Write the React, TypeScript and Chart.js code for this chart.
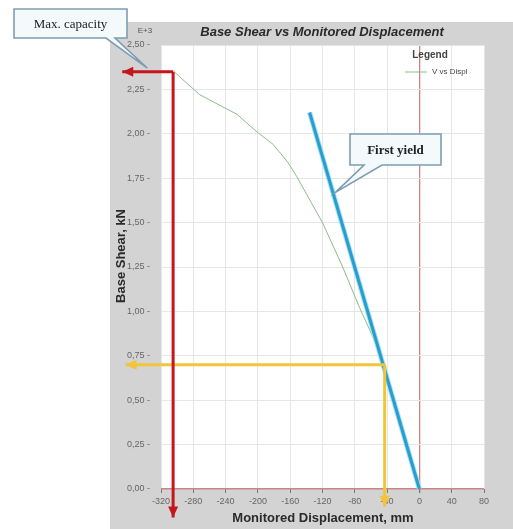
import { useEffect, useRef } from 'react';
import { Chart, registerables } from 'chart.js';

Chart.register(...registerables);

// ---- data ----
const DISPLACEMENT_MM = [0, -43, -49, -74, -95, -120, -152, -163, -181, -201, -226, -272, -304];
const BASE_SHEAR_E3 = [0, 0.70, 0.77, 1.02, 1.25, 1.50, 1.76, 1.84, 1.94, 2.01, 2.11, 2.22, 2.35];

const FIRST_YIELD_DISP = [0, -136];
const FIRST_YIELD_SHEAR = [0, 2.12];

const YIELD_POINT_DISP = -43;
const YIELD_POINT_SHEAR = 0.70;
const YIELD_ARROW_LEFT_DISP = -364;
const YIELD_ARROW_DOWN_SHEAR = -0.10;

const MAX_CAP_DISP = -305;
const MAX_CAP_SHEAR = 2.35;
const MAX_ARROW_LEFT_DISP = -368;
const MAX_ARROW_DOWN_SHEAR = -0.16;

const X_MIN = -320;
const X_MAX = 80;
const X_STEP = 40;
const Y_MIN = 0;
const Y_MAX = 2.5;
const Y_STEP = 0.25;

const TITLE = 'Base Shear vs Monitored Displacement';
const X_TITLE = 'Monitored Displacement, mm';
const Y_TITLE = 'Base Shear, kN';
const EXPONENT = 'E+3';
const SERIES_NAME = 'V vs Displ';
const LEGEND_TITLE = 'Legend';
const CALLOUT_MAX = 'Max. capacity';
const CALLOUT_YIELD = 'First yield';

const SANS = '"Liberation Sans", Arial, sans-serif';
const SERIF = '"Liberation Serif", "Times New Roman", serif';

const GREEN = '#8fbb8f';
const BLUE = '#2a9ccd';
const YELLOW = '#f2c43a';
const RED = '#c6161d';
const ZERO_LINE = '#c98585';

function drawCallout(
  ctx: CanvasRenderingContext2D,
  bx: number, by: number, bw: number, bh: number,
  t1: number, t2: number, tipX: number, tipY: number,
  text: string, bold: boolean
) {
  ctx.save();
  ctx.beginPath();
  ctx.moveTo(bx, by);
  ctx.lineTo(bx + bw, by);
  ctx.lineTo(bx + bw, by + bh);
  ctx.lineTo(bx + t2, by + bh);
  ctx.lineTo(tipX, tipY);
  ctx.lineTo(bx + t1, by + bh);
  ctx.lineTo(bx, by + bh);
  ctx.closePath();
  ctx.fillStyle = '#f4f9fb';
  ctx.fill();
  ctx.lineWidth = 1.6;
  ctx.strokeStyle = '#7d9db3';
  ctx.stroke();
  ctx.fillStyle = '#222';
  ctx.font = `${bold ? 'bold ' : ''}13px ${SERIF}`;
  ctx.textAlign = 'center';
  ctx.textBaseline = 'middle';
  ctx.fillText(text, bx + bw / 2, by + bh / 2 + 1);
  ctx.restore();
}

const decorPlugin = {
  id: 'decor',
  beforeDraw(chart: any) {
    const { ctx, chartArea } = chart;
    ctx.save();
    ctx.fillStyle = '#d3d3d3';
    ctx.fillRect(110, 22, chart.width - 110, chart.height - 22);
    ctx.fillStyle = '#ffffff';
    ctx.fillRect(chartArea.left, chartArea.top, chartArea.right - chartArea.left, chartArea.bottom - chartArea.top);
    ctx.restore();
  },
  afterDatasetsDraw(chart: any) {
    const { ctx } = chart;
    chart.data.datasets.forEach((ds: any, i: number) => {
      if (!ds.arrow) return;
      const meta = chart.getDatasetMeta(i);
      const pts = meta.data;
      const a = pts[pts.length - 2];
      const b = pts[pts.length - 1];
      const ang = Math.atan2(b.y - a.y, b.x - a.x);
      const len = 11;
      const half = 5;
      ctx.save();
      ctx.fillStyle = ds.borderColor;
      ctx.beginPath();
      ctx.moveTo(b.x, b.y);
      ctx.lineTo(b.x - len * Math.cos(ang) + half * Math.sin(ang), b.y - len * Math.sin(ang) - half * Math.cos(ang));
      ctx.lineTo(b.x - len * Math.cos(ang) - half * Math.sin(ang), b.y - len * Math.sin(ang) + half * Math.cos(ang));
      ctx.closePath();
      ctx.fill();
      ctx.restore();
    });
  },
  afterDraw(chart: any) {
    const { ctx, scales } = chart;
    const xs = scales.x;
    const ys = scales.y;
    ctx.save();
    // title
    ctx.fillStyle = '#2a2a2a';
    ctx.font = `italic bold 13px ${SANS}`;
    ctx.textAlign = 'center';
    ctx.textBaseline = 'middle';
    ctx.fillText(TITLE, 322, 32);
    // exponent
    ctx.fillStyle = '#555';
    ctx.font = `8px ${SANS}`;
    ctx.fillText(EXPONENT, 145, 31);
    // axis titles
    ctx.fillStyle = '#2a2a2a';
    ctx.font = `bold 13px ${SANS}`;
    ctx.fillText(X_TITLE, 323, 518);
    ctx.save();
    ctx.translate(121, 256);
    ctx.rotate(-Math.PI / 2);
    ctx.fillText(Y_TITLE, 0, 0);
    ctx.restore();
    // legend
    ctx.fillStyle = '#444';
    ctx.font = `bold 10px ${SANS}`;
    ctx.fillText(LEGEND_TITLE, 430, 55);
    ctx.strokeStyle = GREEN;
    ctx.lineWidth = 1;
    ctx.beginPath();
    ctx.moveTo(405, 72);
    ctx.lineTo(427, 72);
    ctx.stroke();
    ctx.fillStyle = '#444';
    ctx.font = `8px ${SANS}`;
    ctx.textAlign = 'left';
    ctx.fillText(SERIES_NAME, 432, 72);
    ctx.restore();

    // callouts, tails pointing at data locations
    const maxTipX = xs.getPixelForValue(MAX_CAP_DISP - 32);
    const maxTipY = ys.getPixelForValue(MAX_CAP_SHEAR + 0.02);
    drawCallout(ctx, 14, 9, 113, 29, 92, 101, maxTipX, maxTipY, CALLOUT_MAX, false);
    const yTipX = xs.getPixelForValue(-104);
    const yTipY = ys.getPixelForValue(1.67);
    drawCallout(ctx, 350, 134, 91, 31, 14, 32, yTipX, yTipY, CALLOUT_YIELD, true);
  },
};

export default function App() {
  const ref = useRef<HTMLCanvasElement | null>(null);

  useEffect(() => {
    if (!ref.current) return;
    const curve = DISPLACEMENT_MM.map((x, i) => ({ x, y: BASE_SHEAR_E3[i] }));
    const yieldLine = FIRST_YIELD_DISP.map((x, i) => ({ x, y: FIRST_YIELD_SHEAR[i] }));
    const lineDs = (data: any[], color: string, width: number, order: number, arrow = false) => ({
      data,
      borderColor: color,
      backgroundColor: color,
      borderWidth: width,
      showLine: true,
      pointRadius: 0,
      pointHoverRadius: 0,
      tension: 0,
      clip: false as any,
      order,
      arrow,
    });

    const chart = new Chart(ref.current, {
      type: 'scatter',
      data: {
        datasets: [
          { ...lineDs(curve, GREEN, 1, 5), label: SERIES_NAME },
          { ...lineDs(yieldLine, '#9fe3f2', 5, 4), label: 'halo' },
          { ...lineDs(yieldLine, BLUE, 3, 3), label: 'First yield' },
          {
            ...lineDs([{ x: YIELD_POINT_DISP, y: YIELD_POINT_SHEAR }, { x: YIELD_ARROW_LEFT_DISP, y: YIELD_POINT_SHEAR }], YELLOW, 3, 2, true),
            label: 'y1',
          },
          {
            ...lineDs([{ x: YIELD_POINT_DISP, y: YIELD_POINT_SHEAR }, { x: YIELD_POINT_DISP, y: YIELD_ARROW_DOWN_SHEAR }], YELLOW, 3, 2, true),
            label: 'y2',
          },
          {
            ...lineDs([{ x: MAX_CAP_DISP, y: MAX_CAP_SHEAR }, { x: MAX_ARROW_LEFT_DISP, y: MAX_CAP_SHEAR }], RED, 3, 1, true),
            label: 'r1',
          },
          {
            ...lineDs([{ x: MAX_CAP_DISP, y: MAX_CAP_SHEAR }, { x: MAX_CAP_DISP, y: MAX_ARROW_DOWN_SHEAR }], RED, 3, 1, true),
            label: 'r2',
          },
        ] as any,
      },
      options: {
        animation: false,
        responsive: false,
        maintainAspectRatio: false,
        layout: { padding: { left: 0, top: 45, right: 29, bottom: 0 } },
        plugins: { legend: { display: false }, tooltip: { enabled: false }, title: { display: false } },
        scales: {
          x: {
            type: 'linear',
            min: X_MIN,
            max: X_MAX,
            afterFit: (s: any) => { s.height = 40; },
            afterBuildTicks: (s: any) => {
              const t = [];
              for (let v = X_MIN; v <= X_MAX; v += X_STEP) t.push({ value: v });
              s.ticks = t;
            },
            border: { display: false },
            grid: {
              color: (c: any) => (c.tick && Math.abs(c.tick.value) < 1e-9 ? ZERO_LINE : '#e6e6e6'),
              lineWidth: (c: any) => (c.tick && Math.abs(c.tick.value) < 1e-9 ? 1.3 : 1),
              drawTicks: true,
              tickLength: 4,
              tickColor: '#777',
            },
            ticks: {
              color: '#666',
              font: { family: SANS, size: 9 },
              padding: 3,
              maxRotation: 0,
              autoSkip: false,
              callback: (v: any) => String(v),
            },
          },
          y: {
            type: 'linear',
            min: Y_MIN,
            max: Y_MAX,
            afterFit: (s: any) => { s.width = 161; },
            afterBuildTicks: (s: any) => {
              const t = [];
              for (let i = 0; i <= Math.round((Y_MAX - Y_MIN) / Y_STEP); i++) t.push({ value: Y_MIN + i * Y_STEP });
              s.ticks = t;
            },
            border: { display: false },
            grid: {
              color: (c: any) => (c.tick && Math.abs(c.tick.value) < 1e-9 ? ZERO_LINE : '#e6e6e6'),
              lineWidth: (c: any) => (c.tick && Math.abs(c.tick.value) < 1e-9 ? 1.5 : 1),
              drawTicks: false,
            },
            ticks: {
              color: '#666',
              font: { family: SANS, size: 9 },
              padding: 11,
              autoSkip: false,
              callback: (v: any) => Number(v).toFixed(2).replace('.', ',') + ' -',
            },
          },
        },
      },
      plugins: [decorPlugin],
    });
    return () => chart.destroy();
  }, []);

  return (
    <div style={{ position: 'fixed', left: 0, top: 0, width: 513, height: 529, background: '#fff' }}>
      <canvas ref={ref} width={513} height={529} style={{ width: 513, height: 529, display: 'block' }} />
    </div>
  );
}
